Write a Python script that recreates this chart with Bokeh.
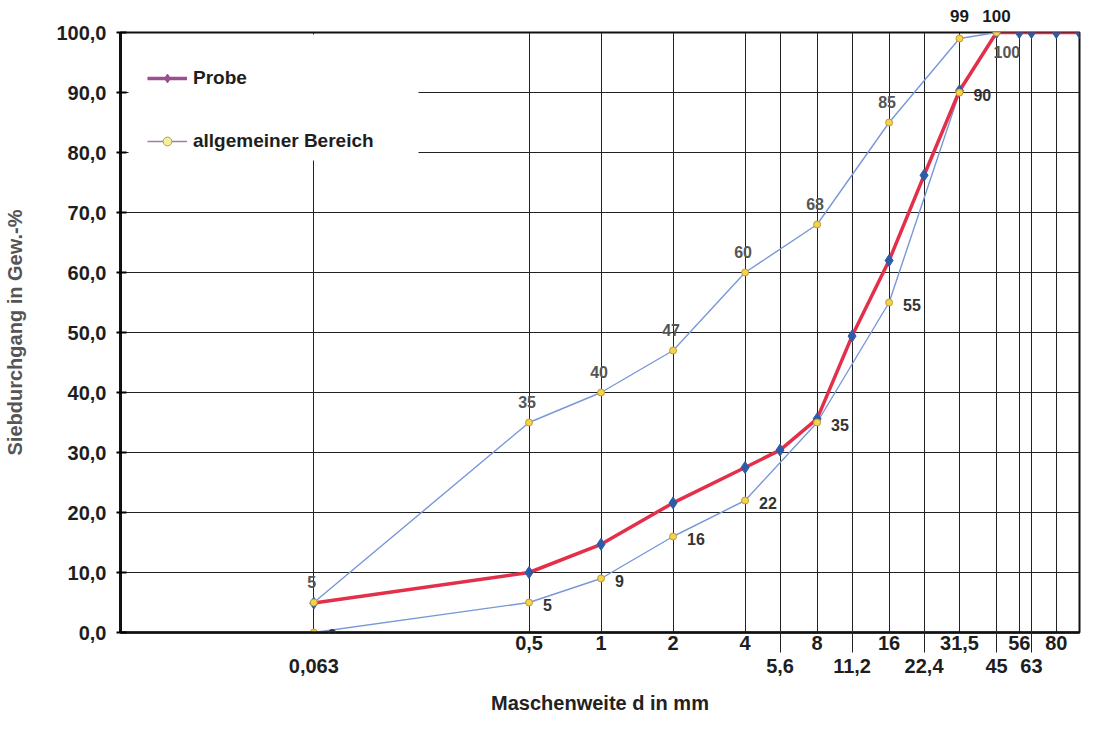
from bokeh.plotting import figure
from bokeh.models import (FixedTicker, LogAxis, CustomJSTickFormatter, Legend, LegendItem,
                          LabelSet, ColumnDataSource, Range1d, BoxAnnotation)
from bokeh.core.properties import value
from bokeh.embed import file_html
from bokeh.resources import INLINE

# ---------------- data ----------------
sieve_sizes = [0.063, 0.5, 1, 2, 4, 5.6, 8, 11.2, 16, 22.4, 31.5, 45, 56, 63, 80]
upper_row_ticks = [0.5, 1, 2, 4, 8, 16, 31.5, 56, 80]
lower_row_ticks = [0.063, 5.6, 11.2, 22.4, 45, 63]
lower_row_long_ticks = [5.6, 11.2, 22.4, 45, 63]
y_ticks = [0, 10, 20, 30, 40, 50, 60, 70, 80, 90, 100]

probe_x = [0.063, 0.5, 1, 2, 4, 5.6, 8, 11.2, 16, 22.4, 31.5, 45, 56, 63, 80, 100]
probe_y = [4.9, 10.0, 14.7, 21.6, 27.5, 30.4, 35.6, 49.4, 62.0, 76.2, 90.3, 100, 100, 100, 100, 100]

range_x = [0.063, 0.5, 1, 2, 4, 8, 16, 31.5, 45]
range_upper = [5, 35, 40, 47, 60, 68, 85, 99, 100]
range_lower = [0, 5, 9, 16, 22, 35, 55, 90, 100]

FONT = "Liberation Sans"
FRAME_W, FRAME_H = 959, 600
comma_fmt = CustomJSTickFormatter(code="return tick.toString().replace('.', ',');")
comma_fmt_y = CustomJSTickFormatter(code="return tick.toFixed(1).replace('.', ',');")

p = figure(frame_width=FRAME_W, frame_height=FRAME_H, x_axis_type="log",
           x_range=Range1d(0.0098, 100), y_range=Range1d(0, 100),
           output_backend="svg", toolbar_location=None,
           min_border_left=120, min_border_top=32, min_border_right=3, min_border_bottom=4)

p.outline_line_color = "#111111"
p.outline_line_width = 2
p.background_fill_color = "white"
p.border_fill_color = "white"

# grids
p.xgrid.ticker = FixedTicker(ticks=sieve_sizes)
p.xgrid.grid_line_color = "#222222"
p.xgrid.grid_line_width = 1
p.ygrid.ticker = FixedTicker(ticks=y_ticks)
p.ygrid.grid_line_color = "#222222"
p.ygrid.grid_line_width = 1

TICK_SIZE = "20px"

# y axis
ya = p.yaxis[0]
ya.ticker = FixedTicker(ticks=y_ticks)
ya.formatter = comma_fmt_y
ya.axis_line_width = 3
ya.axis_line_color = "#111111"
ya.major_tick_in = 6
ya.major_tick_out = 4
ya.major_tick_line_width = 2
ya.minor_tick_line_color = None
ya.major_label_standoff = 10
ya.major_label_text_font = FONT
ya.major_label_text_font_style = "bold"
ya.major_label_text_font_size = TICK_SIZE
ya.major_label_text_color = "#1e1e1e"
ya.axis_label = "Siebdurchgang in Gew.-%"
ya.axis_label_text_font = FONT
ya.axis_label_text_font_style = "bold"
ya.axis_label_text_font_size = "20px"
ya.axis_label_text_color = "#555555"
ya.axis_label_standoff = 27

# x axis (upper label row)
xa = p.xaxis[0]
xa.ticker = FixedTicker(ticks=upper_row_ticks, minor_ticks=[])
xa.formatter = comma_fmt
xa.axis_line_width = 2.5
xa.axis_line_color = "#111111"
xa.major_tick_in = 0
xa.major_tick_out = 0
xa.minor_tick_line_color = None
xa.major_label_standoff = 3
xa.major_label_text_font = FONT
xa.major_label_text_font_style = "bold"
xa.major_label_text_font_size = TICK_SIZE
xa.major_label_text_color = "#1e1e1e"

# x axis (lower label row) with long ticks reaching up to the frame
xb = LogAxis(ticker=FixedTicker(ticks=lower_row_ticks, minor_ticks=lower_row_long_ticks),
             formatter=comma_fmt)
xb.axis_line_color = None
xb.major_tick_line_color = None
xb.minor_tick_in = 26
xb.minor_tick_out = 0
xb.minor_tick_line_color = "#222222"
xb.minor_tick_line_width = 1
xb.major_label_standoff = 0
xb.major_label_text_font = FONT
xb.major_label_text_font_style = "bold"
xb.major_label_text_font_size = TICK_SIZE
xb.major_label_text_color = "#1e1e1e"
xb.axis_label = "Maschenweite d in mm"
xb.axis_label_text_font = FONT
xb.axis_label_text_font_style = "bold"
xb.axis_label_text_font_size = "20px"
xb.axis_label_text_color = "#222222"
xb.axis_label_standoff = 16
p.add_layout(xb, "below")

# data labels of the upper range curve that sit above the frame (31,5 -> 99, 45 -> 100)
top_fmt = CustomJSTickFormatter(
    args=dict(xs=range_x[-2:], labels=[str(v) for v in range_upper[-2:]]),
    code="for (let i = 0; i < xs.length; i++) { if (Math.abs(xs[i] - tick) < 1e-9) return labels[i]; } return '';")
xt = LogAxis(ticker=FixedTicker(ticks=range_x[-2:], minor_ticks=[]), formatter=top_fmt)
xt.axis_line_color = None
xt.major_tick_line_color = None
xt.minor_tick_line_color = None
xt.major_label_standoff = 5
xt.major_label_text_font = FONT
xt.major_label_text_font_style = "bold"
xt.major_label_text_font_size = "17px"
xt.major_label_text_color = "#1a1a1a"
p.add_layout(xt, "above")

# white mask behind the legend (hides grid lines there, as in the original);
# screen units here are frame-relative, measured from the frame's bottom-left
p.add_layout(BoxAnnotation(left=8, right=298, top=FRAME_H - 2, bottom=FRAME_H - 128,
                           left_units="screen", right_units="screen",
                           top_units="screen", bottom_units="screen",
                           fill_color="white", fill_alpha=1.0, line_color=None))

# ---------------- series ----------------
env_line_color = "#7898d8"
env_fill = "#f2d44c"
env_edge = "#c8962e"

p.line(range_x, range_upper, line_color=env_line_color, line_width=1.4)
p.line(range_x, range_lower, line_color=env_line_color, line_width=1.4)
p.line(probe_x, probe_y, line_color="#e3304a", line_width=3.5)
p.scatter(probe_x, probe_y, marker="diamond", size=12, fill_color="#2c5ca8", line_color="#2c5ca8")
p.scatter(range_x, range_upper, marker="circle", size=7, fill_color=env_fill, line_color=env_edge, line_width=1)
p.scatter(range_x, range_lower, marker="circle", size=7, fill_color=env_fill, line_color=env_edge, line_width=1)

# ---------------- data labels inside the frame ----------------
LBL = dict(text_font=value(FONT), text_font_style="bold", text_baseline="middle")

up_src = ColumnDataSource(dict(x=range_x[:-2], y=range_upper[:-2], t=[str(v) for v in range_upper[:-2]]))
p.add_layout(LabelSet(x="x", y="y", text="t", source=up_src, x_offset=-2, y_offset=21,
                      text_align="center", text_font_size="16px", text_color="#555555", **LBL))

lo_src = ColumnDataSource(dict(x=range_x[:-1], y=range_lower[:-1], t=[str(v) for v in range_lower[:-1]]))
p.add_layout(LabelSet(x="x", y="y", text="t", source=lo_src, x_offset=14, y_offset=-2,
                      text_align="left", text_font_size="16px", text_color="#333333", **LBL))
lo_last = ColumnDataSource(dict(x=range_x[-1:], y=range_lower[-1:], t=[str(v) for v in range_lower[-1:]]))
p.add_layout(LabelSet(x="x", y="y", text="t", source=lo_last, x_offset=-3, y_offset=-19,
                      text_align="left", text_font_size="16px", text_color="#555555", **LBL))

# ---------------- legend (swatches only) ----------------
lp_line = p.line([1e-6, 2e-6], [-50, -50], line_color="#9b4f8f", line_width=3.5)
lp_mark = p.scatter([1e-6], [-50], marker="diamond", size=12, fill_color="#9b4f8f", line_color="#9b4f8f")
lr_line = p.line([1e-6, 2e-6], [-50, -50], line_color="#9a7fa8", line_width=1.5)
lr_mark = p.scatter([1e-6], [-50], marker="circle", size=8, fill_color="#f3f09a", line_color="#b59a5a")

legend = Legend(items=[LegendItem(label="Probe", renderers=[lp_line, lp_mark]),
                       LegendItem(label="allgemeiner Bereich", renderers=[lr_line, lr_mark])],
                location=(27, 480))
legend.padding = 18
legend.spacing = 41
legend.glyph_width = 40
legend.glyph_height = 22
legend.label_height = 22
legend.label_standoff = 6
legend.label_text_font = FONT
legend.label_text_font_style = "bold"
legend.label_text_font_size = "19px"
legend.label_text_color = "#1e1e1e"
legend.border_line_color = None
legend.background_fill_color = "white"
legend.background_fill_alpha = 1.0
p.add_layout(legend)

open("out.html", "w").write(file_html(p, INLINE))
